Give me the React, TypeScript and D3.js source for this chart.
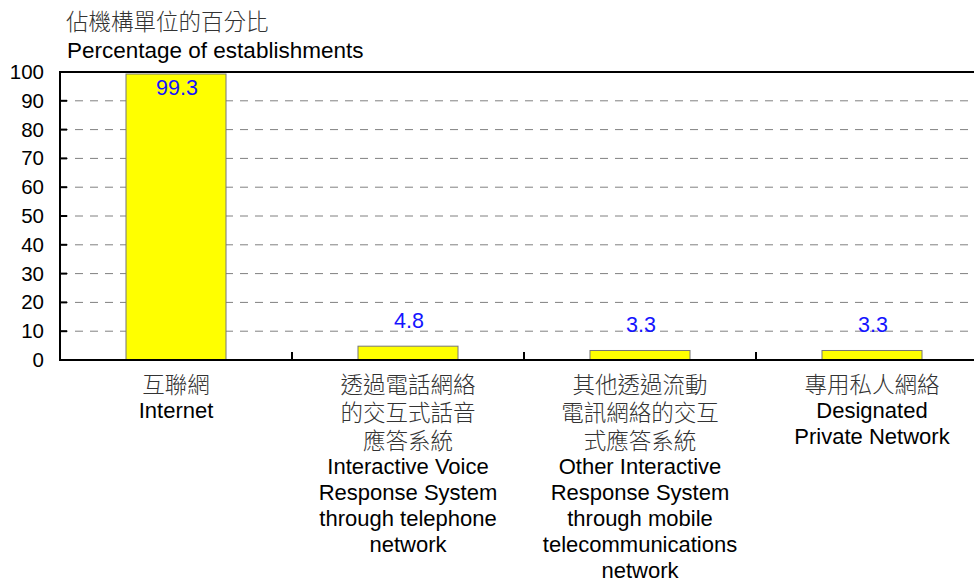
import React from "react";
import * as d3 from "d3";

const categories = ["Internet", "IVRS telephone", "IVRS mobile", "Designated Private Network"];
const values = [99.3, 4.8, 3.3, 3.3];
const categoryLabels: string[][] = [
  ["互聯網", "Internet"],
  ["透過電話網絡", "的交互式話音", "應答系統", "Interactive Voice", "Response System", "through telephone", "network"],
  ["其他透過流動", "電訊網絡的交互", "式應答系統", "Other Interactive", "Response System", "through mobile", "telecommunications", "network"],
  ["專用私人網絡", "Designated", "Private Network"],
];
const yTicks = [0, 10, 20, 30, 40, 50, 60, 70, 80, 90, 100];
const titleZh = "佔機構單位的百分比";
const titleEn = "Percentage of establishments";

const W = 974;
const H = 580;
const left = 60;
const top = 72;
const bottom = 360;
const step = 232;
const barW = 100;

const latin = "Arial, 'Liberation Sans', sans-serif";
const cjk = "'Noto Sans CJK TC', 'Noto Sans CJK SC', sans-serif";

const isCJK = (s: string) => /[\u3400-\u9fff]/.test(s);

export default function App() {
  const x = d3
    .scaleBand<string>()
    .domain(categories)
    .range([left, left + step * categories.length])
    .padding(0);
  const y = d3.scaleLinear().domain([0, 100]).range([bottom, top]);

  return (
    <svg width={W} height={H} style={{ position: "absolute", left: 0, top: 0, background: "#fff" }}>
      {/* titles */}
      <text x={66} y={30} fontFamily={cjk} fontWeight={300} fontSize={22.5} fill="#333">{titleZh}</text>
      <text x={67} y={58} fontFamily={latin} fontSize={22.5} fill="#000">{titleEn}</text>

      {/* gridlines */}
      {yTicks.filter((t) => t > 0 && t < 100).map((t) => (
        <line key={"g" + t} x1={left} x2={W} y1={y(t)} y2={y(t)} stroke="#808080" strokeWidth={1} strokeDasharray="8,7" />
      ))}

      {/* bars */}
      {categories.map((c, i) => {
        const cx = (x(c) as number) + x.bandwidth() / 2;
        const yt = y(values[i]);
        return (
          <rect key={"b" + c} x={cx - barW / 2} y={yt} width={barW} height={bottom - yt} fill="#ffff00" stroke="#777" strokeWidth={1} />
        );
      })}

      {/* top line */}
      <line x1={left} x2={W} y1={top} y2={top} stroke="#000" strokeWidth={2} />
      {/* axes */}
      <line x1={left} x2={left} y1={top - 1} y2={bottom + 1} stroke="#000" strokeWidth={2} />
      <line x1={left - 1} x2={W} y1={bottom} y2={bottom} stroke="#000" strokeWidth={2} />

      {/* y ticks */}
      {yTicks.map((t) => (
        <g key={"t" + t}>
          <line x1={left} x2={left + 7} y1={y(t)} y2={y(t)} stroke="#000" strokeWidth={2} />
          <text x={44} y={y(t) + 7} textAnchor="end" fontFamily={latin} fontSize={20.5} fill="#000">{t}</text>
        </g>
      ))}

      {/* category ticks */}
      {categories.slice(1).map((c) => (
        <line key={"ct" + c} x1={x(c) as number} x2={x(c) as number} y1={bottom} y2={bottom - 8} stroke="#000" strokeWidth={2} />
      ))}

      {/* value labels */}
      {categories.map((c, i) => {
        const cx = (x(c) as number) + x.bandwidth() / 2;
        const yt = y(values[i]);
        let ly = yt - 18;
        if (ly - 15 < top) ly = yt + 21;
        return (
          <text key={"v" + c} x={cx + 1} y={ly} textAnchor="middle" fontFamily={latin} fontSize={21.5} fill="#1414ff">
            {values[i].toFixed(1)}
          </text>
        );
      })}

      {/* category labels */}
      {categories.map((c, i) => {
        const cx = (x(c) as number) + x.bandwidth() / 2;
        const lines = categoryLabels[i];
        let by = 393;
        return (
          <g key={"cl" + c}>
            {lines.map((ln, j) => {
              if (j > 0) {
                const prev = isCJK(lines[j - 1]);
                const cur = isCJK(ln);
                by += prev && cur ? 28 : prev && !cur ? 25 : 26;
              }
              const zh = isCJK(ln);
              return (
                <text key={j} x={cx} y={by} textAnchor="middle" fontFamily={zh ? cjk : latin} fontWeight={zh ? 300 : 400} fontSize={zh ? 22.5 : 22} fill={zh ? "#333" : "#000"}>
                  {ln}
                </text>
              );
            })}
          </g>
        );
      })}
    </svg>
  );
}
